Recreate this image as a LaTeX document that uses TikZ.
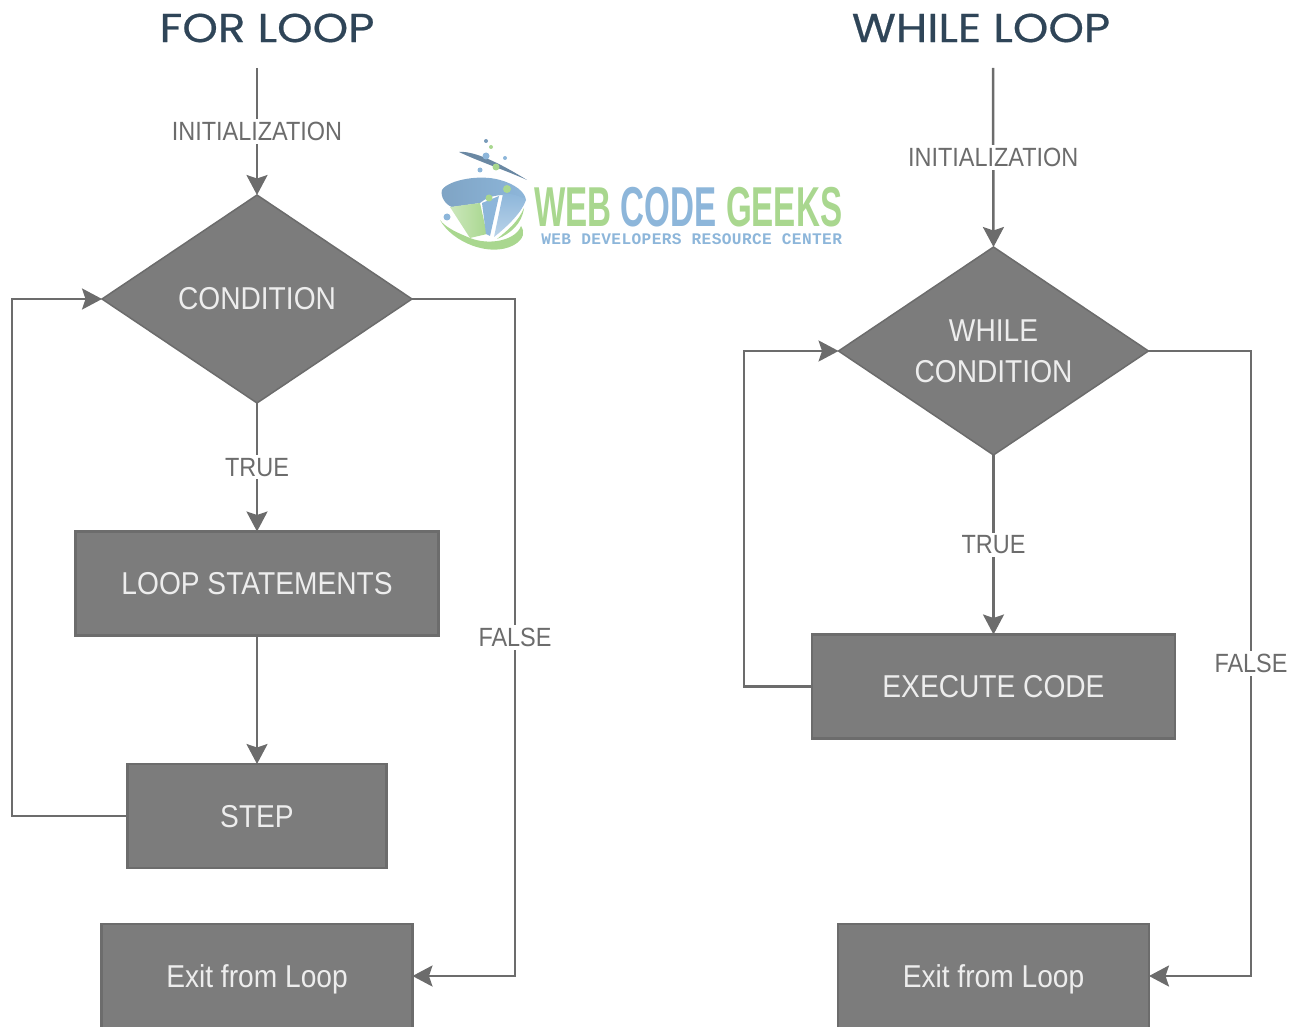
\documentclass[tikz,border=0pt]{standalone}
\usepackage{fontspec}
\usetikzlibrary{arrows.meta,shapes.geometric}
\newfontfamily\titlefont[FakeStretch=1.12,FakeBold=0.5]{Poppins}
\newfontfamily\narrowfont[FakeStretch=0.89]{Liberation Sans}
\newfontfamily\logofont[FakeStretch=0.59]{Liberation Sans Bold}
\newfontfamily\tagfont[LetterSpace=2.3]{Liberation Mono Bold}
\definecolor{boxgray}{HTML}{7C7C7C}
\definecolor{edgegray}{HTML}{6C6C6C}
\definecolor{titleblue}{HTML}{2F4558}
\definecolor{logogreen}{HTML}{A9D78F}
\definecolor{logoblue}{HTML}{8DB6DA}
\tikzset{
  link/.style={draw=edgegray,line width=0.05cm,-{Stealth[length=0.4cm,width=0.42cm,inset=0.07cm]}},
  decision/.style={diamond,aspect=1.5,draw=edgegray,fill=boxgray,line width=0.03cm,inner sep=0pt,outer sep=0pt,
    minimum width=6.2cm,minimum height=4.16cm,text=white!93!black,align=center,font=\narrowfont\fontsize{18}{23.5}\selectfont},
  stepbox/.style={rectangle,draw=edgegray,fill=boxgray,line width=0.05cm,inner sep=0pt,outer sep=0pt,
    minimum height=2.08cm,text depth=0pt,text=white!93!black,font=\narrowfont\fontsize{18}{22}\selectfont},
  lbl/.style={fill=white,inner sep=0.06cm,text=edgegray,font=\narrowfont\fontsize{15}{18}\selectfont},
  heading/.style={text=titleblue,font=\titlefont\fontsize{23}{26}\selectfont}
}
\begin{document}
\begin{tikzpicture}[x=0.02cm,y=-0.02cm]
\useasboundingbox (0,0) rectangle (1301,1027);

\node[heading] (fortitle) at (267,28) {FOR LOOP};
\coordinate (forstart) at (257,68);
\node[decision] (forcond) at (257,299) {CONDITION};
\node[stepbox,minimum width=7.26cm] (forbody) at (257,583.5) {LOOP STATEMENTS};
\node[stepbox,minimum width=5.18cm] (forstep) at (257,816) {STEP};
\node[stepbox,minimum width=6.22cm] (forexit) at (257,976) {Exit from Loop};
\coordinate (forbackb) at (12,816);
\coordinate (forbacka) at (12,299);
\coordinate (forfalsea) at (515,299);
\coordinate (forfalseb) at (515,976);

\draw[link] (forstart) -- node[lbl] (forinit) {INITIALIZATION} (forcond.north);
\draw[link] (forcond.south) -- node[lbl] (fortrue) {TRUE} (forbody.north);
\draw[link] (forbody.south) -- (forstep.north);
\draw[link] (forstep.west) -- (forbackb) -- (forbacka) -- (forcond.west);
\draw[link] (forcond.east) -- (forfalsea) -- node[lbl] (forfalse) {FALSE} (forfalseb) -- (forexit.east);

\node[heading] (whiletitle) at (981,28) {WHILE LOOP};
\coordinate (whilestart) at (993,68);
\node[decision] (whilecond) at (993.5,351) {WHILE\\CONDITION};
\node[stepbox,minimum width=7.26cm] (whilebody) at (993.5,686.5) {EXECUTE CODE};
\node[stepbox,minimum width=6.22cm] (whileexit) at (993.5,976) {Exit from Loop};
\coordinate (whilebackb) at (744,686.5);
\coordinate (whilebacka) at (744,351);
\coordinate (whilefalsea) at (1251,351);
\coordinate (whilefalseb) at (1251,976);

\draw[link] (whilestart) -- node[lbl] (whileinit) {INITIALIZATION} (whilecond.north);
\draw[link] (whilecond.south) -- node[lbl] (whiletrue) {TRUE} (whilebody.north);
\draw[link] (whilebody.west) -- (whilebackb) -- (whilebacka) -- (whilecond.west);
\draw[link] (whilecond.east) -- (whilefalsea) -- node[lbl] (whilefalse) {FALSE} (whilefalseb) -- (whileexit.east);

\fill[logogreen] (440,220) .. controls (452,242) and (490,258) .. (514,245) .. controls (524,239) and (525,232) .. (521,226) .. controls (516,240) and (490,246) .. (470,238) .. controls (458,233) and (446,228) .. (440,220);
\shade[left color=logoblue!90!black,right color=logoblue] (442,190) .. controls (448,180) and (480,174) .. (500,180) .. controls (515,184) and (525,192) .. (526,200) .. controls (510,192) and (490,194) .. (480,203) -- (452,207) .. controls (446,205) and (440,197) .. (442,190);
\shade[left color=logogreen!60!white,right color=logogreen] (450,207) -- (480,203) -- (487,234) -- (470,238) -- cycle;
\fill[logoblue] (482,203) -- (499,196) -- (490,236) -- (486,234) -- cycle;
\shade[top color=logoblue,bottom color=logoblue!60!white] (503,194) .. controls (512,193) and (520,196) .. (526,200) .. controls (522,212) and (508,226) .. (494,237) -- cycle;
\fill[logogreen] (524,208) .. controls (518,222) and (508,230) .. (497,239) .. controls (510,234) and (522,224) .. (524,208);
\fill[logoblue!75!black] (459,152) .. controls (470,151) and (490,157) .. (527,180) .. controls (505,170) and (480,162) .. (459,152);
\fill[logoblue!85!black] (486,141) circle [radius=2];
\fill[logogreen] (491,147) circle [radius=2];
\fill[logoblue] (505,158) circle [radius=2];
\fill[logoblue] (486,156) circle [radius=3.5];
\fill[logogreen] (496,167) circle [radius=3.5];
\fill[logoblue] (480,170) circle [radius=2.5];
\fill[logogreen] (507,189) circle [radius=4];
\fill[logogreen] (489,198) circle [radius=3.5];
\fill[logoblue] (447,217) circle [radius=3.5];

\node[anchor=base west,inner sep=0pt,text depth=0pt,font=\logofont\fontsize{32}{32}\selectfont,text=logogreen] (logoname) at (534,227) {WEB \textcolor{logoblue}{CODE} GEEKS};
\node[anchor=base west,inner sep=0pt,text depth=0pt,font=\tagfont\fontsize{9.2}{9.5}\selectfont,text=logoblue] (logotag) at (541,244) {WEB DEVELOPERS RESOURCE CENTER};
\end{tikzpicture}
\end{document}
